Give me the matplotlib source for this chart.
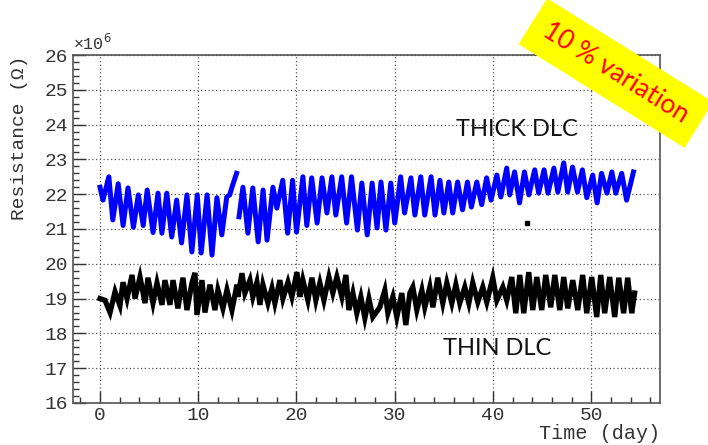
import numpy as np
import matplotlib
matplotlib.use("Agg")
import matplotlib.pyplot as plt
from matplotlib.ticker import MultipleLocator

# thick DLC (blue), two segments with a gap near day 14
thick_day_a = [0, 0.3, 0.9, 1.3, 1.85, 2.35, 2.85, 3.4, 3.9, 4.4, 4.8, 5.4, 5.9, 6.3, 6.8,
               7.3, 7.8, 8.3, 8.85, 9.35, 9.9, 10.3, 10.9, 11.4, 11.9, 12.4, 12.9, 13.2, 13.5, 13.9]
thick_res_a = [22.2, 21.83, 22.5, 21.26, 22.3, 21.1, 22.18, 21.05, 21.98, 21.1, 22.12, 20.9, 22.03, 20.88, 22.03,
               20.77, 21.83, 20.6, 21.98, 20.34, 21.98, 20.31, 21.98, 20.25, 21.9, 20.83, 21.92, 21.98, 22.26, 22.6]

thick_day_b = [14.15, 14.55, 15.05, 15.55, 16.1, 16.6, 17.0, 17.6, 18.0, 18.6,
               19.1, 19.6, 20.0, 20.65, 21.05, 21.55, 22.1, 22.6, 23.1, 23.6,
               24.0, 24.6, 25.1, 25.6, 26.2, 26.65, 27.2, 27.7, 28.2, 28.6,
               29.1, 29.6, 30.0, 30.6, 31.0, 31.65, 32.05, 32.65, 33.05, 33.7,
               34.1, 34.6, 35.0, 35.5, 35.9, 36.4, 36.9, 37.4, 37.8, 38.35,
               38.85, 39.35, 39.8, 40.4, 40.8, 41.4, 41.7, 42.2, 42.7, 43.2,
               43.65, 44.25, 44.65, 45.2, 45.6, 46.2, 46.6, 47.2, 47.6, 48.1,
               48.6, 49.1, 49.55, 50.15, 50.6, 51.05, 51.6, 52.1, 52.5, 53.1,
               53.6, 54.3]
thick_res_b = [21.35, 22.2, 20.88, 22.18, 20.63, 22.12, 20.68, 22.2, 21.6, 22.4,
               20.88, 22.4, 20.91, 22.5, 21.1, 22.47, 21.17, 22.47, 21.46, 22.5,
               21.4, 22.5, 21.17, 22.5, 20.97, 22.32, 20.83, 22.32, 21.03, 22.35,
               20.97, 22.32, 21.17, 22.5, 21.46, 22.47, 21.4, 22.5, 21.4, 22.5,
               21.4, 22.4, 21.46, 22.35, 21.46, 22.35, 21.55, 22.35, 21.63, 22.35,
               21.7, 22.47, 21.83, 22.55, 21.92, 22.75, 21.98, 22.64, 21.75, 22.64,
               21.98, 22.7, 22.03, 22.7, 22.03, 22.75, 22.06, 22.9, 22.06, 22.78,
               22.06, 22.7, 21.9, 22.55, 21.75, 22.6, 22.03, 22.64, 22.03, 22.6,
               21.83, 22.64]

# thin DLC (black)
thin_day = [0, 0.51, 1.02, 1.53, 2.03, 2.34, 2.75, 3.26, 3.56, 4.07, 4.58, 4.88, 5.39, 5.8, 6.31,
            6.61, 7.12, 7.43, 7.93, 8.44, 8.85, 9.36, 9.66, 9.87, 10.38, 10.68, 11.19, 11.7, 12.0,
            12.51, 12.92, 13.43, 13.94,
            14.04, 14.45, 14.75, 15.26, 15.56, 15.97, 16.28, 16.58, 17.09, 17.5, 17.8, 18.31, 18.62,
            19.13, 19.53, 20.04, 20.35, 20.65, 21.16, 21.57, 21.97, 22.38, 22.79, 23.3, 23.7, 24.11,
            24.62, 25.03, 25.33, 25.74, 26.14, 26.55, 26.96, 27.37, 27.77,
            28.48, 28.99, 29.3, 29.81, 30.21, 30.72, 31.13, 31.54, 31.84, 32.25, 32.76, 33.06, 33.57,
            33.88, 34.38, 34.89, 35.3, 35.81, 36.22, 36.62, 37.13, 37.54, 37.94, 38.45, 38.96, 39.37,
            39.98, 40.39, 41.0, 41.4, 41.91, 42.32, 42.73, 43.13, 43.64, 44.05, 44.46, 44.96, 45.37,
            45.88, 46.29, 46.8, 47.2, 47.61, 48.12, 48.63, 49.13, 49.54, 50.05, 50.56, 50.97, 51.37,
            51.88, 52.39, 52.8, 53.3, 53.71, 54.12, 54.42]
thin_res = [19.0, 18.95, 18.6, 19.2, 18.8, 19.47, 19.0, 19.68, 19.0, 19.62, 18.87, 19.6, 18.87, 19.45, 18.82,
            19.53, 18.82, 19.53, 18.72, 19.6, 18.67, 19.45, 19.74, 18.53, 19.53, 18.6, 19.4, 18.67, 19.25,
            18.72, 19.25, 18.67, 19.4,
            19.05, 19.73, 19.16, 19.53, 19.05, 19.47, 18.82, 19.4, 18.87, 19.3, 18.87, 19.53, 19.0,
            19.47, 19.05, 19.76, 19.05, 19.53, 18.95, 19.6, 18.95, 19.45, 18.95, 19.62, 19.16, 19.62,
            19.05, 19.68, 18.67, 19.16, 18.58, 19.05, 18.44, 19.0, 18.47,
            18.75, 19.24, 18.58, 19.05, 18.47, 19.16, 18.24, 19.16, 19.33, 18.67, 19.24, 18.75, 19.33,
            18.75, 19.6, 18.87, 19.45, 18.87, 19.4, 18.87, 19.33, 18.87, 19.45, 18.9, 19.33, 18.9,
            19.6, 18.95, 19.33, 18.95, 19.62, 18.58, 19.68, 18.58, 19.76, 18.67, 19.62, 18.67, 19.68,
            18.75, 19.68, 18.67, 19.62, 18.72, 19.53, 18.67, 19.68, 18.58, 19.62, 18.47, 19.68, 18.58,
            19.62, 18.47, 19.6, 18.58, 19.6, 18.58, 19.16]

stray_day = [43.45]
stray_res = [21.17]

mono = "Liberation Mono"

fig = plt.figure(figsize=(7.08, 4.45), dpi=100)
ax = fig.add_axes([0.1031, 0.0944, 0.8291, 0.782])

ax.plot(thick_day_a, thick_res_a, color="#0000ff", lw=3.6, solid_joinstyle="round")
ax.plot(thick_day_b, thick_res_b, color="#0000ff", lw=3.6, solid_joinstyle="round")
ax.plot(thin_day, thin_res, color="black", lw=3.8, solid_joinstyle="miter")
ax.plot(stray_day, stray_res, "s", color="black", ms=2.5)

ax.set_xlim(-2.75, 57.0)
ax.set_ylim(16, 26)
ax.xaxis.set_major_locator(MultipleLocator(10))
ax.xaxis.set_minor_locator(MultipleLocator(2))
ax.yaxis.set_major_locator(MultipleLocator(1))
ax.yaxis.set_minor_locator(MultipleLocator(0.2))
ax.tick_params(which="both", direction="in", top=False, right=False, color="#333333")
ax.tick_params(which="major", length=9, width=1)
ax.tick_params(which="minor", length=4.5, width=1)
ax.tick_params(axis="both", labelsize=14, labelcolor="#333333")
ax.tick_params(axis="x", pad=3)
for lab in ax.get_xticklabels() + ax.get_yticklabels():
    lab.set_family(mono)
ax.grid(True, which="major", linestyle=(0, (1, 2)), color="#555555", lw=0.9)
for s in ax.spines.values():
    s.set_color("#555555")
    s.set_linewidth(1.2)

ax.text(0.0, 1.005, "\u00d710$^{6}$", transform=ax.transAxes, family=mono, fontsize=12,
        color="#333333", ha="left", va="bottom")
fig.text(0.028, 0.876, "Resistance (\u03a9)", rotation=90, family=mono, fontsize=14,
         color="#333333", ha="center", va="top")
fig.text(0.932, 0.004, "Time (day)", family=mono, fontsize=14.5, color="#333333",
         ha="right", va="bottom")

ax.text(42.4, 23.85, "THICK DLC", family="Lato", fontsize=17, ha="center", va="center", color="#111111")
ax.text(40.4, 17.58, "THIN DLC", family="Lato", fontsize=17, ha="center", va="center", color="#111111")

fig.text(0.77, 0.935, "10 % variation", family="Lato", fontsize=19, color="#ff0000",
         rotation=-32, rotation_mode="anchor", ha="left", va="center",
         bbox=dict(boxstyle="square,pad=0.55", fc="#ffff00", ec="none"))

fig.savefig("out.png", dpi=100)
